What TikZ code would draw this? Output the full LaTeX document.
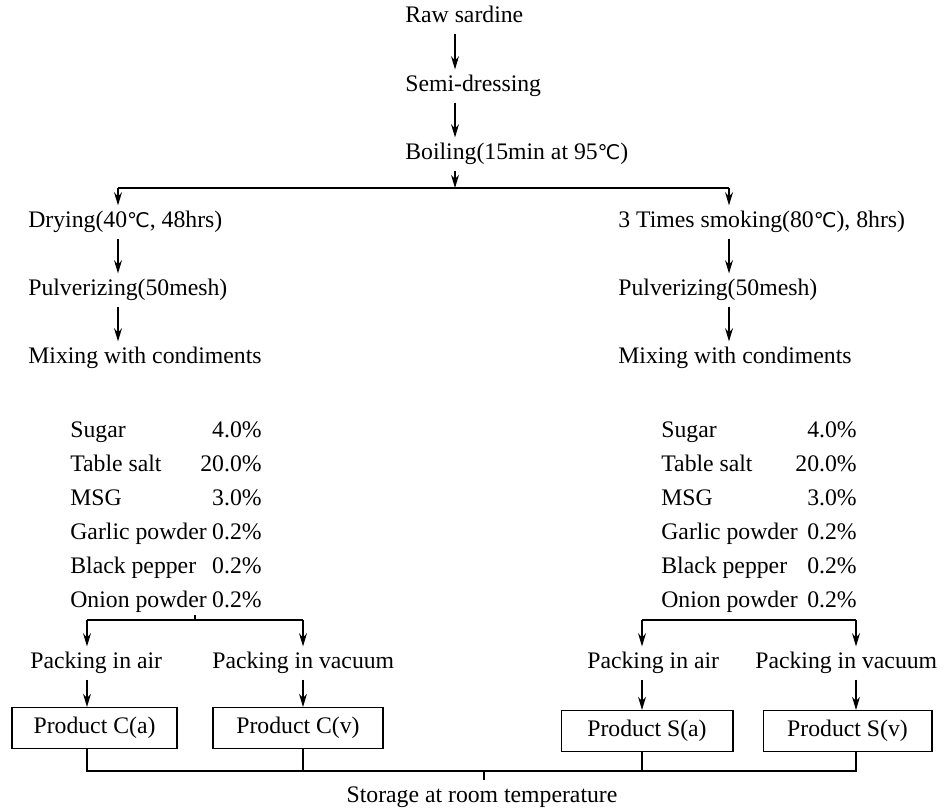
\documentclass[tikz,border=0pt]{standalone}
\usepackage{fontspec}
\setmainfont{Liberation Serif}
\newfontfamily\symfont{DejaVu Sans}
\usetikzlibrary{arrows.meta}
\newcommand{\degC}{{\symfont\fontsize{11.5}{13}\selectfont ℃}}
\tikzstyle{stage} = [anchor=west, inner xsep=0pt, inner ysep=3pt, text height=9.5pt, text depth=3pt,
font=\fontsize{13.5}{16}\selectfont]
\tikzstyle{item} = [inner xsep=0pt, inner ysep=1pt, text height=9.5pt, text depth=3pt,
font=\fontsize{13.5}{16}\selectfont]
\tikzstyle{product} = [rectangle, minimum height=0.82cm, text centered, semithick,
draw=black, font=\fontsize{13.5}{16}\selectfont]
\tikzstyle{line} = [line width=0.7pt]
\tikzstyle{arrow} = [line width=0.7pt, -{Stealth[length=7.5pt, width=4.5pt]}]

\begin{document}
\begin{tikzpicture}[x=0.02cm, y=-0.02cm]
\useasboundingbox (0,0) rectangle (945,811);

% ------------------------- nodes -------------------------

% ----- node: 0
\node(0)[stage] at (405,17) {Raw sardine};
% ----- node: 1
\node(1)[stage] at (405,86) {Semi-dressing};
% ----- node: 2
\node(2)[stage] at (405,154) {Boiling(15min at 95\degC)};
% ----- node: 3
\node(3)[stage] at (28,222) {Drying(40\degC, 48hrs)};
% ----- node: 4
\node(4)[stage] at (618,222) {3 Times smoking(80\degC), 8hrs)};
% ----- node: 5
\node(5)[stage] at (28,290) {Pulverizing(50mesh)};
% ----- node: 6
\node(6)[stage] at (618,290) {Pulverizing(50mesh)};
% ----- node: 7
\node(7)[stage] at (28,358) {Mixing with condiments};
% ----- node: 8
\node(8)[stage] at (618,358) {Mixing with condiments};

% ----- condiment tables
\foreach \name/\val [count=\i] in {Sugar/4.0, Table salt/20.0, MSG/3.0,
Garlic powder/0.2, Black pepper/0.2, Onion powder/0.2} {
  \node(cl\i)[item, anchor=west] at (70,{432+34*(\i-1)}) {\name};
  \node(cv\i)[item, anchor=east] at (262,{432+34*(\i-1)}) {\val\%};
  \node(sl\i)[item, anchor=west] at (661,{432+34*(\i-1)}) {\name};
  \node(sv\i)[item, anchor=east] at (857,{432+34*(\i-1)}) {\val\%};
}

% ----- node: 9
\node(9)[stage] at (30,663) {Packing in air};
% ----- node: 10
\node(10)[stage] at (212,663) {Packing in vacuum};
% ----- node: 11
\node(11)[stage] at (587,663) {Packing in air};
% ----- node: 12
\node(12)[stage] at (755,663) {Packing in vacuum};
% ----- node: 13
\node(13)[product, minimum width=3.3cm] at (94.5,728) {Product C(a)};
% ----- node: 14
\node(14)[product, minimum width=3.4cm] at (298,728) {Product C(v)};
% ----- node: 15
\node(15)[product, minimum width=3.44cm] at (647,731) {Product S(a)};
% ----- node: 16
\node(16)[product, minimum width=3.38cm] at (847.5,731) {Product S(v)};
% ----- node: 17
\node(17)[stage, anchor=center] at (482,797) {Storage at room temperature};

% ------------------------- connectors -------------------------

\coordinate (mid) at (455,0);
\coordinate (split) at (455,188);
\coordinate (cL) at (118,188);
\coordinate (cR) at (729,188);
\draw[arrow] (mid |- 0.south) -- (mid |- 1.north);
\draw[arrow] (mid |- 1.south) -- (mid |- 2.north);
\draw[arrow] (mid |- 2.south) -- (split);
\draw[line] (cL) -- (cR);
\draw[arrow] (cL) -- (cL |- 3.north);
\draw[arrow] (cR) -- (cR |- 4.north);
\draw[arrow] (cL |- 3.south) -- (cL |- 5.north);
\draw[arrow] (cR |- 4.south) -- (cR |- 6.north);
\draw[arrow] (cL |- 5.south) -- (cL |- 7.north);
\draw[arrow] (cR |- 6.south) -- (cR |- 8.north);

% ----- packing
\coordinate (jC) at (195,620);
\coordinate (xa) at (87,620);
\coordinate (xb) at (303,620);
\coordinate (xc) at (642,620);
\coordinate (xd) at (856,620);
\draw[line] (jC |- cl6.south) -- (jC);
\draw[line] (xa) -- (xb);
\draw[line] (xc) -- (xd);
\draw[arrow] (xa) -- (xa |- 9.north);
\draw[arrow] (xb) -- (xb |- 10.north);
\draw[arrow] (xc) -- (xc |- 11.north);
\draw[arrow] (xd) -- (xd |- 12.north);
\draw[arrow] (xa |- 9.south) -- (xa |- 13.north);
\draw[arrow] (xb |- 10.south) -- (xb |- 14.north);
\draw[arrow] (xc |- 11.south) -- (xc |- 15.north);
\draw[arrow] (xd |- 12.south) -- (xd |- 16.north);

% ----- storage
\coordinate (jB) at (484,771);
\draw[line] (xa |- 13.south) -- (xa |- jB) -- (xd |- jB) -- (xd |- 16.south);
\draw[line] (xb |- 14.south) -- (xb |- jB);
\draw[line] (xc |- 15.south) -- (xc |- jB);
\draw[line] (jB) -- (jB |- 17.north);

\end{tikzpicture}
\end{document}
